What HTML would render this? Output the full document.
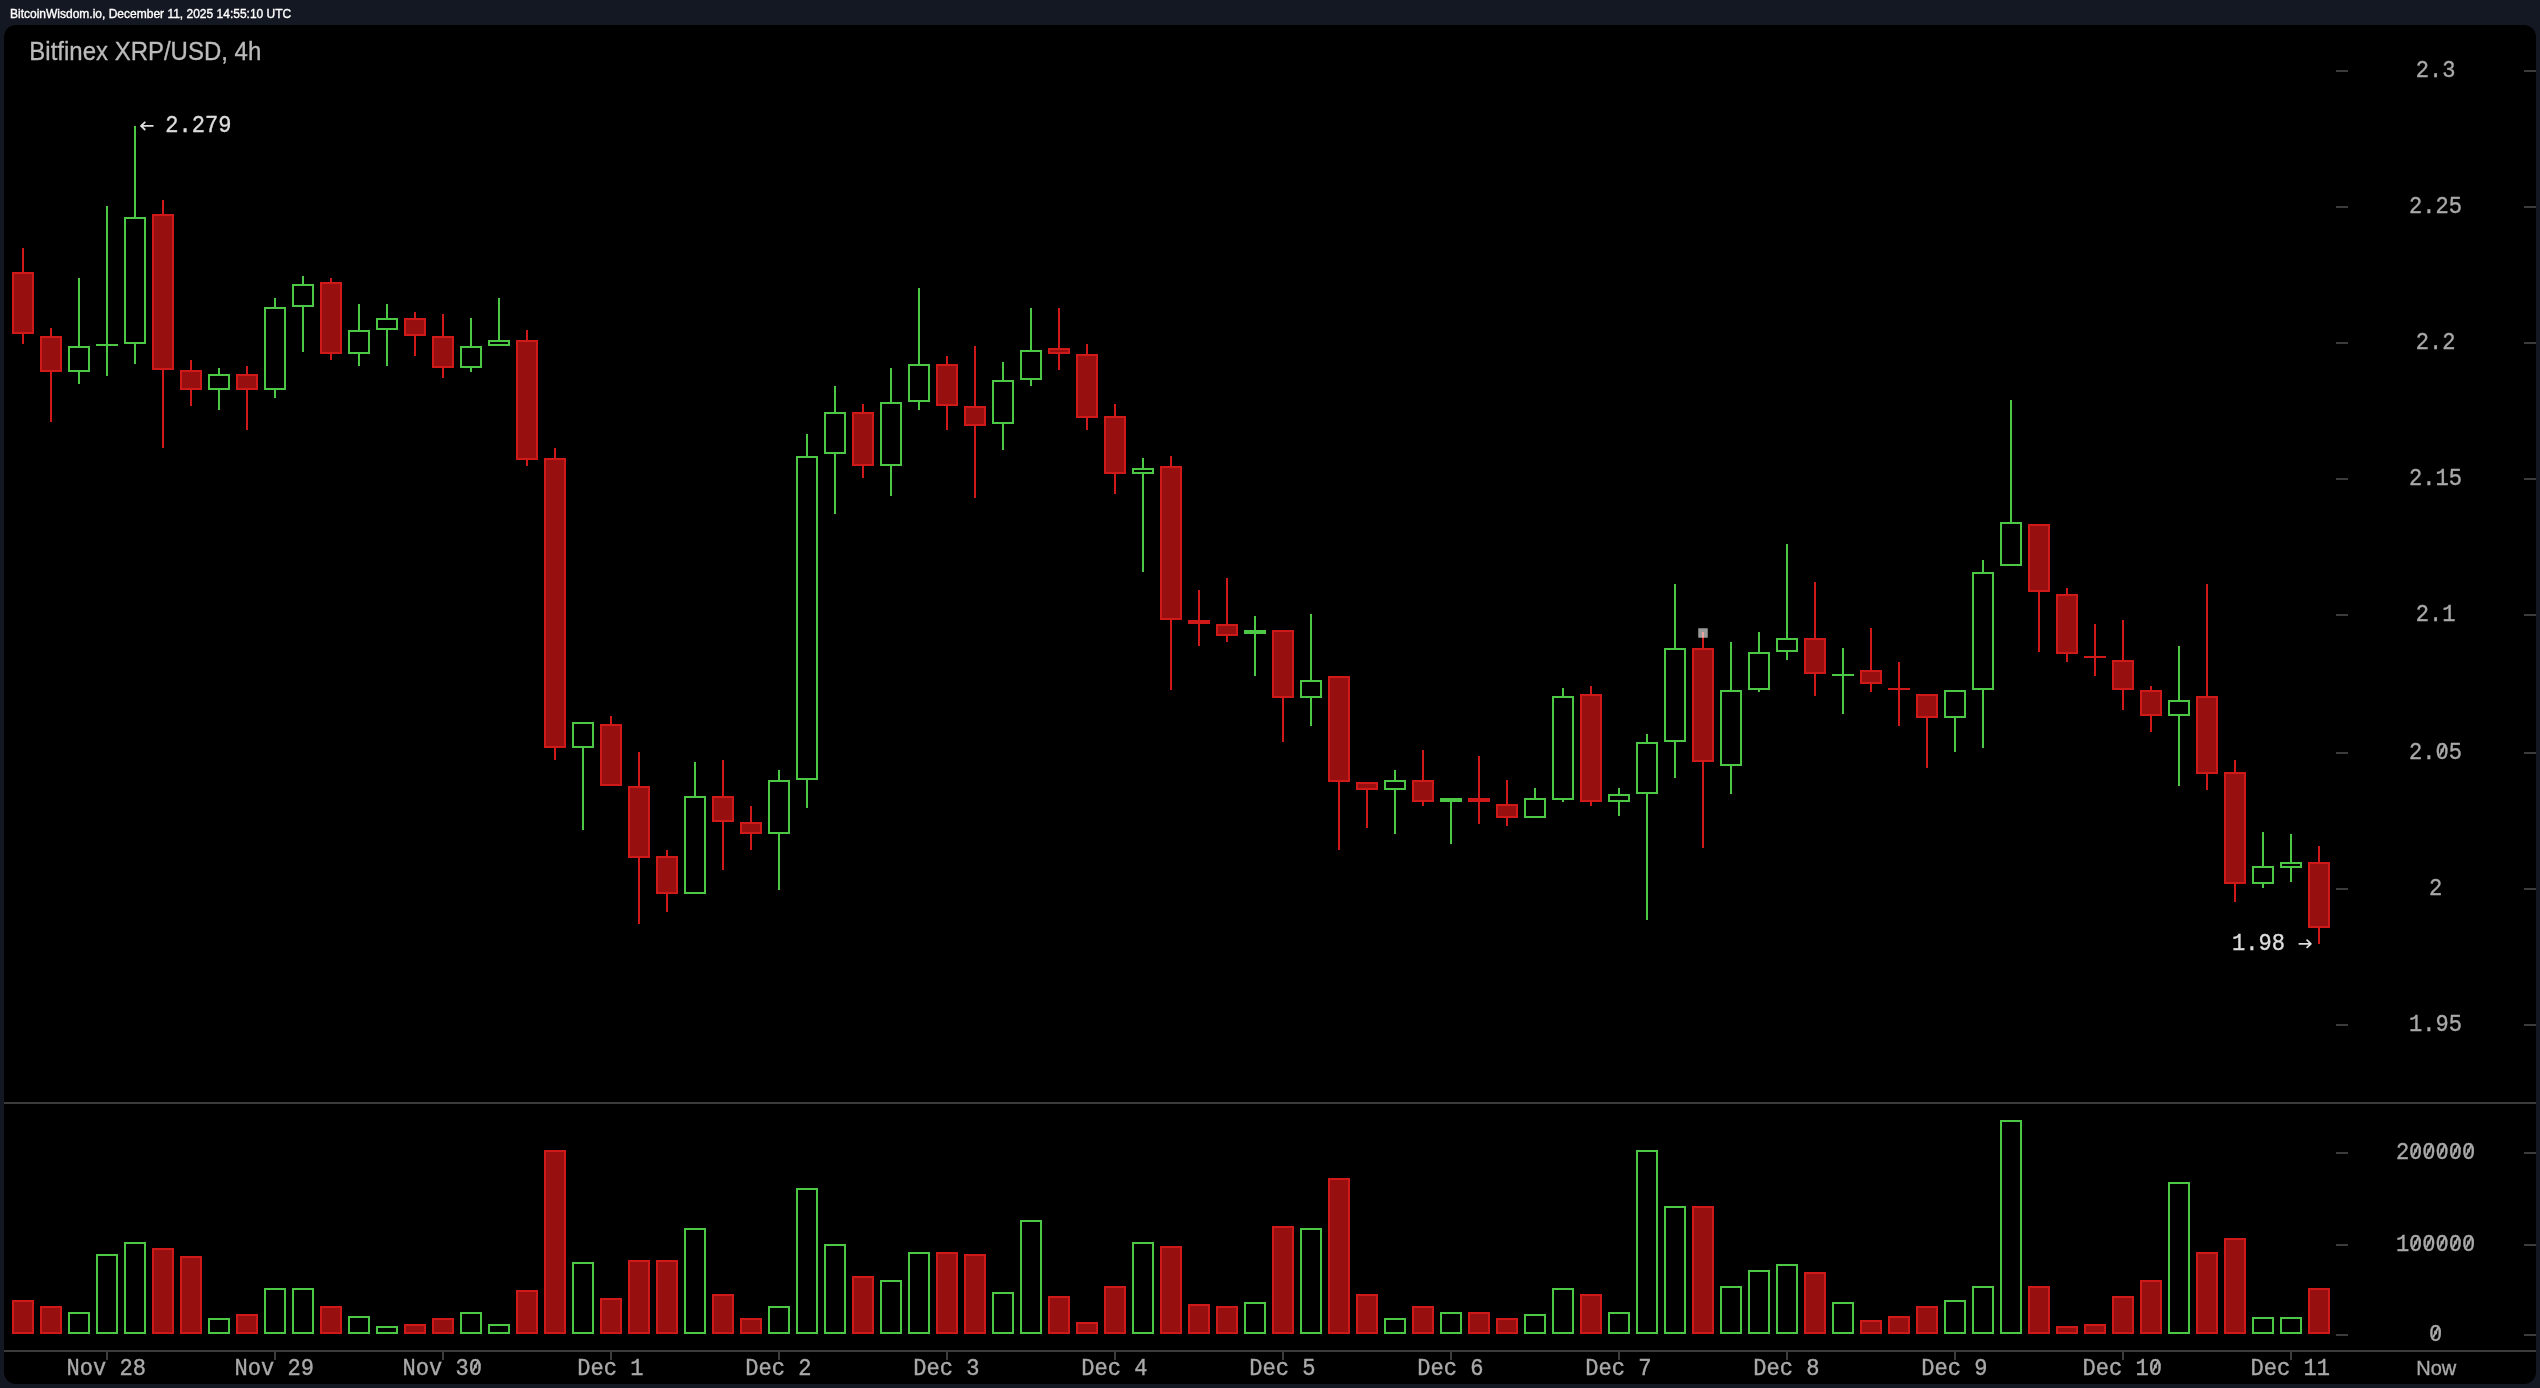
<!DOCTYPE html>
<html><head><meta charset="utf-8"><title>Bitfinex XRP/USD, 4h</title><style>
html,body{margin:0;padding:0;background:#141822;width:2540px;height:1388px;overflow:hidden}
svg{display:block}
text{filter:grayscale(0.01)}
.m{font-family:"Liberation Mono", monospace;font-size:24px}
.s{font-family:"Liberation Sans", sans-serif}
</style></head><body>
<svg width="2540" height="1388" viewBox="0 0 2540 1388">
<rect x="0" y="0" width="2540" height="1388" fill="#141822"/>
<text class="s" x="10" y="18" font-size="12" fill="#ffffff" stroke="#ffffff" stroke-width="0.35">BitcoinWisdom.io, December 11, 2025 14:55:10 UTC</text>
<rect x="4" y="25" width="2532" height="1359" rx="12" ry="12" fill="#000000"/>
<text class="s" transform="translate(29.3 59.8) scale(1 1.055)" x="0" y="0" font-size="24" fill="#bbbbbb" stroke="#bbbbbb" stroke-width="0.3">Bitfinex XRP/USD, 4h</text>
<g shape-rendering="crispEdges">
<rect x="2336" y="70" width="12" height="2" fill="#3c3c3c"/>
<rect x="2524" y="70" width="12" height="2" fill="#3c3c3c"/>
<rect x="2336" y="206" width="12" height="2" fill="#3c3c3c"/>
<rect x="2524" y="206" width="12" height="2" fill="#3c3c3c"/>
<rect x="2336" y="342" width="12" height="2" fill="#3c3c3c"/>
<rect x="2524" y="342" width="12" height="2" fill="#3c3c3c"/>
<rect x="2336" y="478" width="12" height="2" fill="#3c3c3c"/>
<rect x="2524" y="478" width="12" height="2" fill="#3c3c3c"/>
<rect x="2336" y="614" width="12" height="2" fill="#3c3c3c"/>
<rect x="2524" y="614" width="12" height="2" fill="#3c3c3c"/>
<rect x="2336" y="752" width="12" height="2" fill="#3c3c3c"/>
<rect x="2524" y="752" width="12" height="2" fill="#3c3c3c"/>
<rect x="2336" y="888" width="12" height="2" fill="#3c3c3c"/>
<rect x="2524" y="888" width="12" height="2" fill="#3c3c3c"/>
<rect x="2336" y="1024" width="12" height="2" fill="#3c3c3c"/>
<rect x="2524" y="1024" width="12" height="2" fill="#3c3c3c"/>
<rect x="2336" y="1152" width="12" height="2" fill="#3c3c3c"/>
<rect x="2524" y="1152" width="12" height="2" fill="#3c3c3c"/>
<rect x="2336" y="1244" width="12" height="2" fill="#3c3c3c"/>
<rect x="2524" y="1244" width="12" height="2" fill="#3c3c3c"/>
<rect x="2336" y="1334" width="12" height="2" fill="#3c3c3c"/>
<rect x="2524" y="1334" width="12" height="2" fill="#3c3c3c"/>
<rect x="4" y="1102" width="2532" height="2" fill="#3c3c3c"/>
<rect x="4" y="1350" width="2532" height="2" fill="#3c3c3c"/>
<rect x="106" y="1352" width="2" height="8" fill="#3c3c3c"/>
<rect x="274" y="1352" width="2" height="8" fill="#3c3c3c"/>
<rect x="442" y="1352" width="2" height="8" fill="#3c3c3c"/>
<rect x="610" y="1352" width="2" height="8" fill="#3c3c3c"/>
<rect x="778" y="1352" width="2" height="8" fill="#3c3c3c"/>
<rect x="946" y="1352" width="2" height="8" fill="#3c3c3c"/>
<rect x="1114" y="1352" width="2" height="8" fill="#3c3c3c"/>
<rect x="1282" y="1352" width="2" height="8" fill="#3c3c3c"/>
<rect x="1450" y="1352" width="2" height="8" fill="#3c3c3c"/>
<rect x="1618" y="1352" width="2" height="8" fill="#3c3c3c"/>
<rect x="1786" y="1352" width="2" height="8" fill="#3c3c3c"/>
<rect x="1954" y="1352" width="2" height="8" fill="#3c3c3c"/>
<rect x="2122" y="1352" width="2" height="8" fill="#3c3c3c"/>
<rect x="2290" y="1352" width="2" height="8" fill="#3c3c3c"/>
<rect x="12" y="1300" width="22" height="34" fill="#d01a1a"/>
<rect x="14" y="1302" width="18" height="30" fill="#980f0f"/>
<rect x="40" y="1306" width="22" height="28" fill="#d01a1a"/>
<rect x="42" y="1308" width="18" height="24" fill="#980f0f"/>
<rect x="68" y="1312" width="22" height="22" fill="#4cc846"/>
<rect x="70" y="1314" width="18" height="18" fill="#000"/>
<rect x="96" y="1254" width="22" height="80" fill="#4cc846"/>
<rect x="98" y="1256" width="18" height="76" fill="#000"/>
<rect x="124" y="1242" width="22" height="92" fill="#4cc846"/>
<rect x="126" y="1244" width="18" height="88" fill="#000"/>
<rect x="152" y="1248" width="22" height="86" fill="#d01a1a"/>
<rect x="154" y="1250" width="18" height="82" fill="#980f0f"/>
<rect x="180" y="1256" width="22" height="78" fill="#d01a1a"/>
<rect x="182" y="1258" width="18" height="74" fill="#980f0f"/>
<rect x="208" y="1318" width="22" height="16" fill="#4cc846"/>
<rect x="210" y="1320" width="18" height="12" fill="#000"/>
<rect x="236" y="1314" width="22" height="20" fill="#d01a1a"/>
<rect x="238" y="1316" width="18" height="16" fill="#980f0f"/>
<rect x="264" y="1288" width="22" height="46" fill="#4cc846"/>
<rect x="266" y="1290" width="18" height="42" fill="#000"/>
<rect x="292" y="1288" width="22" height="46" fill="#4cc846"/>
<rect x="294" y="1290" width="18" height="42" fill="#000"/>
<rect x="320" y="1306" width="22" height="28" fill="#d01a1a"/>
<rect x="322" y="1308" width="18" height="24" fill="#980f0f"/>
<rect x="348" y="1316" width="22" height="18" fill="#4cc846"/>
<rect x="350" y="1318" width="18" height="14" fill="#000"/>
<rect x="376" y="1326" width="22" height="8" fill="#4cc846"/>
<rect x="378" y="1328" width="18" height="4" fill="#000"/>
<rect x="404" y="1324" width="22" height="10" fill="#d01a1a"/>
<rect x="406" y="1326" width="18" height="6" fill="#980f0f"/>
<rect x="432" y="1318" width="22" height="16" fill="#d01a1a"/>
<rect x="434" y="1320" width="18" height="12" fill="#980f0f"/>
<rect x="460" y="1312" width="22" height="22" fill="#4cc846"/>
<rect x="462" y="1314" width="18" height="18" fill="#000"/>
<rect x="488" y="1324" width="22" height="10" fill="#4cc846"/>
<rect x="490" y="1326" width="18" height="6" fill="#000"/>
<rect x="516" y="1290" width="22" height="44" fill="#d01a1a"/>
<rect x="518" y="1292" width="18" height="40" fill="#980f0f"/>
<rect x="544" y="1150" width="22" height="184" fill="#d01a1a"/>
<rect x="546" y="1152" width="18" height="180" fill="#980f0f"/>
<rect x="572" y="1262" width="22" height="72" fill="#4cc846"/>
<rect x="574" y="1264" width="18" height="68" fill="#000"/>
<rect x="600" y="1298" width="22" height="36" fill="#d01a1a"/>
<rect x="602" y="1300" width="18" height="32" fill="#980f0f"/>
<rect x="628" y="1260" width="22" height="74" fill="#d01a1a"/>
<rect x="630" y="1262" width="18" height="70" fill="#980f0f"/>
<rect x="656" y="1260" width="22" height="74" fill="#d01a1a"/>
<rect x="658" y="1262" width="18" height="70" fill="#980f0f"/>
<rect x="684" y="1228" width="22" height="106" fill="#4cc846"/>
<rect x="686" y="1230" width="18" height="102" fill="#000"/>
<rect x="712" y="1294" width="22" height="40" fill="#d01a1a"/>
<rect x="714" y="1296" width="18" height="36" fill="#980f0f"/>
<rect x="740" y="1318" width="22" height="16" fill="#d01a1a"/>
<rect x="742" y="1320" width="18" height="12" fill="#980f0f"/>
<rect x="768" y="1306" width="22" height="28" fill="#4cc846"/>
<rect x="770" y="1308" width="18" height="24" fill="#000"/>
<rect x="796" y="1188" width="22" height="146" fill="#4cc846"/>
<rect x="798" y="1190" width="18" height="142" fill="#000"/>
<rect x="824" y="1244" width="22" height="90" fill="#4cc846"/>
<rect x="826" y="1246" width="18" height="86" fill="#000"/>
<rect x="852" y="1276" width="22" height="58" fill="#d01a1a"/>
<rect x="854" y="1278" width="18" height="54" fill="#980f0f"/>
<rect x="880" y="1280" width="22" height="54" fill="#4cc846"/>
<rect x="882" y="1282" width="18" height="50" fill="#000"/>
<rect x="908" y="1252" width="22" height="82" fill="#4cc846"/>
<rect x="910" y="1254" width="18" height="78" fill="#000"/>
<rect x="936" y="1252" width="22" height="82" fill="#d01a1a"/>
<rect x="938" y="1254" width="18" height="78" fill="#980f0f"/>
<rect x="964" y="1254" width="22" height="80" fill="#d01a1a"/>
<rect x="966" y="1256" width="18" height="76" fill="#980f0f"/>
<rect x="992" y="1292" width="22" height="42" fill="#4cc846"/>
<rect x="994" y="1294" width="18" height="38" fill="#000"/>
<rect x="1020" y="1220" width="22" height="114" fill="#4cc846"/>
<rect x="1022" y="1222" width="18" height="110" fill="#000"/>
<rect x="1048" y="1296" width="22" height="38" fill="#d01a1a"/>
<rect x="1050" y="1298" width="18" height="34" fill="#980f0f"/>
<rect x="1076" y="1322" width="22" height="12" fill="#d01a1a"/>
<rect x="1078" y="1324" width="18" height="8" fill="#980f0f"/>
<rect x="1104" y="1286" width="22" height="48" fill="#d01a1a"/>
<rect x="1106" y="1288" width="18" height="44" fill="#980f0f"/>
<rect x="1132" y="1242" width="22" height="92" fill="#4cc846"/>
<rect x="1134" y="1244" width="18" height="88" fill="#000"/>
<rect x="1160" y="1246" width="22" height="88" fill="#d01a1a"/>
<rect x="1162" y="1248" width="18" height="84" fill="#980f0f"/>
<rect x="1188" y="1304" width="22" height="30" fill="#d01a1a"/>
<rect x="1190" y="1306" width="18" height="26" fill="#980f0f"/>
<rect x="1216" y="1306" width="22" height="28" fill="#d01a1a"/>
<rect x="1218" y="1308" width="18" height="24" fill="#980f0f"/>
<rect x="1244" y="1302" width="22" height="32" fill="#4cc846"/>
<rect x="1246" y="1304" width="18" height="28" fill="#000"/>
<rect x="1272" y="1226" width="22" height="108" fill="#d01a1a"/>
<rect x="1274" y="1228" width="18" height="104" fill="#980f0f"/>
<rect x="1300" y="1228" width="22" height="106" fill="#4cc846"/>
<rect x="1302" y="1230" width="18" height="102" fill="#000"/>
<rect x="1328" y="1178" width="22" height="156" fill="#d01a1a"/>
<rect x="1330" y="1180" width="18" height="152" fill="#980f0f"/>
<rect x="1356" y="1294" width="22" height="40" fill="#d01a1a"/>
<rect x="1358" y="1296" width="18" height="36" fill="#980f0f"/>
<rect x="1384" y="1318" width="22" height="16" fill="#4cc846"/>
<rect x="1386" y="1320" width="18" height="12" fill="#000"/>
<rect x="1412" y="1306" width="22" height="28" fill="#d01a1a"/>
<rect x="1414" y="1308" width="18" height="24" fill="#980f0f"/>
<rect x="1440" y="1312" width="22" height="22" fill="#4cc846"/>
<rect x="1442" y="1314" width="18" height="18" fill="#000"/>
<rect x="1468" y="1312" width="22" height="22" fill="#d01a1a"/>
<rect x="1470" y="1314" width="18" height="18" fill="#980f0f"/>
<rect x="1496" y="1318" width="22" height="16" fill="#d01a1a"/>
<rect x="1498" y="1320" width="18" height="12" fill="#980f0f"/>
<rect x="1524" y="1314" width="22" height="20" fill="#4cc846"/>
<rect x="1526" y="1316" width="18" height="16" fill="#000"/>
<rect x="1552" y="1288" width="22" height="46" fill="#4cc846"/>
<rect x="1554" y="1290" width="18" height="42" fill="#000"/>
<rect x="1580" y="1294" width="22" height="40" fill="#d01a1a"/>
<rect x="1582" y="1296" width="18" height="36" fill="#980f0f"/>
<rect x="1608" y="1312" width="22" height="22" fill="#4cc846"/>
<rect x="1610" y="1314" width="18" height="18" fill="#000"/>
<rect x="1636" y="1150" width="22" height="184" fill="#4cc846"/>
<rect x="1638" y="1152" width="18" height="180" fill="#000"/>
<rect x="1664" y="1206" width="22" height="128" fill="#4cc846"/>
<rect x="1666" y="1208" width="18" height="124" fill="#000"/>
<rect x="1692" y="1206" width="22" height="128" fill="#d01a1a"/>
<rect x="1694" y="1208" width="18" height="124" fill="#980f0f"/>
<rect x="1720" y="1286" width="22" height="48" fill="#4cc846"/>
<rect x="1722" y="1288" width="18" height="44" fill="#000"/>
<rect x="1748" y="1270" width="22" height="64" fill="#4cc846"/>
<rect x="1750" y="1272" width="18" height="60" fill="#000"/>
<rect x="1776" y="1264" width="22" height="70" fill="#4cc846"/>
<rect x="1778" y="1266" width="18" height="66" fill="#000"/>
<rect x="1804" y="1272" width="22" height="62" fill="#d01a1a"/>
<rect x="1806" y="1274" width="18" height="58" fill="#980f0f"/>
<rect x="1832" y="1302" width="22" height="32" fill="#4cc846"/>
<rect x="1834" y="1304" width="18" height="28" fill="#000"/>
<rect x="1860" y="1320" width="22" height="14" fill="#d01a1a"/>
<rect x="1862" y="1322" width="18" height="10" fill="#980f0f"/>
<rect x="1888" y="1316" width="22" height="18" fill="#d01a1a"/>
<rect x="1890" y="1318" width="18" height="14" fill="#980f0f"/>
<rect x="1916" y="1306" width="22" height="28" fill="#d01a1a"/>
<rect x="1918" y="1308" width="18" height="24" fill="#980f0f"/>
<rect x="1944" y="1300" width="22" height="34" fill="#4cc846"/>
<rect x="1946" y="1302" width="18" height="30" fill="#000"/>
<rect x="1972" y="1286" width="22" height="48" fill="#4cc846"/>
<rect x="1974" y="1288" width="18" height="44" fill="#000"/>
<rect x="2000" y="1120" width="22" height="214" fill="#4cc846"/>
<rect x="2002" y="1122" width="18" height="210" fill="#000"/>
<rect x="2028" y="1286" width="22" height="48" fill="#d01a1a"/>
<rect x="2030" y="1288" width="18" height="44" fill="#980f0f"/>
<rect x="2056" y="1326" width="22" height="8" fill="#d01a1a"/>
<rect x="2058" y="1328" width="18" height="4" fill="#980f0f"/>
<rect x="2084" y="1324" width="22" height="10" fill="#d01a1a"/>
<rect x="2086" y="1326" width="18" height="6" fill="#980f0f"/>
<rect x="2112" y="1296" width="22" height="38" fill="#d01a1a"/>
<rect x="2114" y="1298" width="18" height="34" fill="#980f0f"/>
<rect x="2140" y="1280" width="22" height="54" fill="#d01a1a"/>
<rect x="2142" y="1282" width="18" height="50" fill="#980f0f"/>
<rect x="2168" y="1182" width="22" height="152" fill="#4cc846"/>
<rect x="2170" y="1184" width="18" height="148" fill="#000"/>
<rect x="2196" y="1252" width="22" height="82" fill="#d01a1a"/>
<rect x="2198" y="1254" width="18" height="78" fill="#980f0f"/>
<rect x="2224" y="1238" width="22" height="96" fill="#d01a1a"/>
<rect x="2226" y="1240" width="18" height="92" fill="#980f0f"/>
<rect x="2252" y="1317" width="22" height="17" fill="#4cc846"/>
<rect x="2254" y="1319" width="18" height="13" fill="#000"/>
<rect x="2280" y="1317" width="22" height="17" fill="#4cc846"/>
<rect x="2282" y="1319" width="18" height="13" fill="#000"/>
<rect x="2308" y="1288" width="22" height="46" fill="#d01a1a"/>
<rect x="2310" y="1290" width="18" height="42" fill="#980f0f"/>
<rect x="22" y="248" width="2" height="24" fill="#d01a1a"/>
<rect x="22" y="334" width="2" height="10" fill="#d01a1a"/>
<rect x="12" y="272" width="22" height="62" fill="#d01a1a"/>
<rect x="14" y="274" width="18" height="58" fill="#980f0f"/>
<rect x="50" y="328" width="2" height="8" fill="#d01a1a"/>
<rect x="50" y="372" width="2" height="50" fill="#d01a1a"/>
<rect x="40" y="336" width="22" height="36" fill="#d01a1a"/>
<rect x="42" y="338" width="18" height="32" fill="#980f0f"/>
<rect x="78" y="278" width="2" height="68" fill="#4cc846"/>
<rect x="78" y="372" width="2" height="12" fill="#4cc846"/>
<rect x="68" y="346" width="22" height="26" fill="#4cc846"/>
<rect x="70" y="348" width="18" height="22" fill="#000"/>
<rect x="106" y="206" width="2" height="138" fill="#4cc846"/>
<rect x="106" y="346" width="2" height="30" fill="#4cc846"/>
<rect x="96" y="344" width="22" height="2" fill="#4cc846"/>
<rect x="134" y="126" width="2" height="91" fill="#4cc846"/>
<rect x="134" y="344" width="2" height="20" fill="#4cc846"/>
<rect x="124" y="217" width="22" height="127" fill="#4cc846"/>
<rect x="126" y="219" width="18" height="123" fill="#000"/>
<rect x="162" y="200" width="2" height="14" fill="#d01a1a"/>
<rect x="162" y="370" width="2" height="78" fill="#d01a1a"/>
<rect x="152" y="214" width="22" height="156" fill="#d01a1a"/>
<rect x="154" y="216" width="18" height="152" fill="#980f0f"/>
<rect x="190" y="360" width="2" height="10" fill="#d01a1a"/>
<rect x="190" y="390" width="2" height="16" fill="#d01a1a"/>
<rect x="180" y="370" width="22" height="20" fill="#d01a1a"/>
<rect x="182" y="372" width="18" height="16" fill="#980f0f"/>
<rect x="218" y="368" width="2" height="6" fill="#4cc846"/>
<rect x="218" y="390" width="2" height="20" fill="#4cc846"/>
<rect x="208" y="374" width="22" height="16" fill="#4cc846"/>
<rect x="210" y="376" width="18" height="12" fill="#000"/>
<rect x="246" y="366" width="2" height="8" fill="#d01a1a"/>
<rect x="246" y="390" width="2" height="40" fill="#d01a1a"/>
<rect x="236" y="374" width="22" height="16" fill="#d01a1a"/>
<rect x="238" y="376" width="18" height="12" fill="#980f0f"/>
<rect x="274" y="298" width="2" height="9" fill="#4cc846"/>
<rect x="274" y="390" width="2" height="8" fill="#4cc846"/>
<rect x="264" y="307" width="22" height="83" fill="#4cc846"/>
<rect x="266" y="309" width="18" height="79" fill="#000"/>
<rect x="302" y="276" width="2" height="8" fill="#4cc846"/>
<rect x="302" y="307" width="2" height="45" fill="#4cc846"/>
<rect x="292" y="284" width="22" height="23" fill="#4cc846"/>
<rect x="294" y="286" width="18" height="19" fill="#000"/>
<rect x="330" y="278" width="2" height="4" fill="#d01a1a"/>
<rect x="330" y="354" width="2" height="6" fill="#d01a1a"/>
<rect x="320" y="282" width="22" height="72" fill="#d01a1a"/>
<rect x="322" y="284" width="18" height="68" fill="#980f0f"/>
<rect x="358" y="304" width="2" height="26" fill="#4cc846"/>
<rect x="358" y="354" width="2" height="12" fill="#4cc846"/>
<rect x="348" y="330" width="22" height="24" fill="#4cc846"/>
<rect x="350" y="332" width="18" height="20" fill="#000"/>
<rect x="386" y="304" width="2" height="14" fill="#4cc846"/>
<rect x="386" y="330" width="2" height="36" fill="#4cc846"/>
<rect x="376" y="318" width="22" height="12" fill="#4cc846"/>
<rect x="378" y="320" width="18" height="8" fill="#000"/>
<rect x="414" y="312" width="2" height="6" fill="#d01a1a"/>
<rect x="414" y="336" width="2" height="20" fill="#d01a1a"/>
<rect x="404" y="318" width="22" height="18" fill="#d01a1a"/>
<rect x="406" y="320" width="18" height="14" fill="#980f0f"/>
<rect x="442" y="314" width="2" height="22" fill="#d01a1a"/>
<rect x="442" y="368" width="2" height="10" fill="#d01a1a"/>
<rect x="432" y="336" width="22" height="32" fill="#d01a1a"/>
<rect x="434" y="338" width="18" height="28" fill="#980f0f"/>
<rect x="470" y="318" width="2" height="28" fill="#4cc846"/>
<rect x="470" y="368" width="2" height="4" fill="#4cc846"/>
<rect x="460" y="346" width="22" height="22" fill="#4cc846"/>
<rect x="462" y="348" width="18" height="18" fill="#000"/>
<rect x="498" y="298" width="2" height="42" fill="#4cc846"/>
<rect x="488" y="340" width="22" height="6" fill="#4cc846"/>
<rect x="490" y="342" width="18" height="2" fill="#000"/>
<rect x="526" y="330" width="2" height="10" fill="#d01a1a"/>
<rect x="526" y="460" width="2" height="6" fill="#d01a1a"/>
<rect x="516" y="340" width="22" height="120" fill="#d01a1a"/>
<rect x="518" y="342" width="18" height="116" fill="#980f0f"/>
<rect x="554" y="448" width="2" height="10" fill="#d01a1a"/>
<rect x="554" y="748" width="2" height="12" fill="#d01a1a"/>
<rect x="544" y="458" width="22" height="290" fill="#d01a1a"/>
<rect x="546" y="460" width="18" height="286" fill="#980f0f"/>
<rect x="582" y="748" width="2" height="82" fill="#4cc846"/>
<rect x="572" y="722" width="22" height="26" fill="#4cc846"/>
<rect x="574" y="724" width="18" height="22" fill="#000"/>
<rect x="610" y="716" width="2" height="8" fill="#d01a1a"/>
<rect x="600" y="724" width="22" height="62" fill="#d01a1a"/>
<rect x="602" y="726" width="18" height="58" fill="#980f0f"/>
<rect x="638" y="752" width="2" height="34" fill="#d01a1a"/>
<rect x="638" y="858" width="2" height="66" fill="#d01a1a"/>
<rect x="628" y="786" width="22" height="72" fill="#d01a1a"/>
<rect x="630" y="788" width="18" height="68" fill="#980f0f"/>
<rect x="666" y="850" width="2" height="6" fill="#d01a1a"/>
<rect x="666" y="894" width="2" height="18" fill="#d01a1a"/>
<rect x="656" y="856" width="22" height="38" fill="#d01a1a"/>
<rect x="658" y="858" width="18" height="34" fill="#980f0f"/>
<rect x="694" y="762" width="2" height="34" fill="#4cc846"/>
<rect x="684" y="796" width="22" height="98" fill="#4cc846"/>
<rect x="686" y="798" width="18" height="94" fill="#000"/>
<rect x="722" y="760" width="2" height="36" fill="#d01a1a"/>
<rect x="722" y="822" width="2" height="48" fill="#d01a1a"/>
<rect x="712" y="796" width="22" height="26" fill="#d01a1a"/>
<rect x="714" y="798" width="18" height="22" fill="#980f0f"/>
<rect x="750" y="806" width="2" height="16" fill="#d01a1a"/>
<rect x="750" y="834" width="2" height="16" fill="#d01a1a"/>
<rect x="740" y="822" width="22" height="12" fill="#d01a1a"/>
<rect x="742" y="824" width="18" height="8" fill="#980f0f"/>
<rect x="778" y="770" width="2" height="10" fill="#4cc846"/>
<rect x="778" y="834" width="2" height="56" fill="#4cc846"/>
<rect x="768" y="780" width="22" height="54" fill="#4cc846"/>
<rect x="770" y="782" width="18" height="50" fill="#000"/>
<rect x="806" y="434" width="2" height="22" fill="#4cc846"/>
<rect x="806" y="780" width="2" height="28" fill="#4cc846"/>
<rect x="796" y="456" width="22" height="324" fill="#4cc846"/>
<rect x="798" y="458" width="18" height="320" fill="#000"/>
<rect x="834" y="386" width="2" height="26" fill="#4cc846"/>
<rect x="834" y="454" width="2" height="60" fill="#4cc846"/>
<rect x="824" y="412" width="22" height="42" fill="#4cc846"/>
<rect x="826" y="414" width="18" height="38" fill="#000"/>
<rect x="862" y="404" width="2" height="8" fill="#d01a1a"/>
<rect x="862" y="466" width="2" height="12" fill="#d01a1a"/>
<rect x="852" y="412" width="22" height="54" fill="#d01a1a"/>
<rect x="854" y="414" width="18" height="50" fill="#980f0f"/>
<rect x="890" y="368" width="2" height="34" fill="#4cc846"/>
<rect x="890" y="466" width="2" height="30" fill="#4cc846"/>
<rect x="880" y="402" width="22" height="64" fill="#4cc846"/>
<rect x="882" y="404" width="18" height="60" fill="#000"/>
<rect x="918" y="288" width="2" height="76" fill="#4cc846"/>
<rect x="918" y="402" width="2" height="8" fill="#4cc846"/>
<rect x="908" y="364" width="22" height="38" fill="#4cc846"/>
<rect x="910" y="366" width="18" height="34" fill="#000"/>
<rect x="946" y="356" width="2" height="8" fill="#d01a1a"/>
<rect x="946" y="406" width="2" height="24" fill="#d01a1a"/>
<rect x="936" y="364" width="22" height="42" fill="#d01a1a"/>
<rect x="938" y="366" width="18" height="38" fill="#980f0f"/>
<rect x="974" y="346" width="2" height="60" fill="#d01a1a"/>
<rect x="974" y="426" width="2" height="72" fill="#d01a1a"/>
<rect x="964" y="406" width="22" height="20" fill="#d01a1a"/>
<rect x="966" y="408" width="18" height="16" fill="#980f0f"/>
<rect x="1002" y="362" width="2" height="18" fill="#4cc846"/>
<rect x="1002" y="424" width="2" height="26" fill="#4cc846"/>
<rect x="992" y="380" width="22" height="44" fill="#4cc846"/>
<rect x="994" y="382" width="18" height="40" fill="#000"/>
<rect x="1030" y="308" width="2" height="42" fill="#4cc846"/>
<rect x="1030" y="380" width="2" height="6" fill="#4cc846"/>
<rect x="1020" y="350" width="22" height="30" fill="#4cc846"/>
<rect x="1022" y="352" width="18" height="26" fill="#000"/>
<rect x="1058" y="308" width="2" height="40" fill="#d01a1a"/>
<rect x="1058" y="354" width="2" height="16" fill="#d01a1a"/>
<rect x="1048" y="348" width="22" height="6" fill="#d01a1a"/>
<rect x="1050" y="350" width="18" height="2" fill="#980f0f"/>
<rect x="1086" y="344" width="2" height="10" fill="#d01a1a"/>
<rect x="1086" y="418" width="2" height="12" fill="#d01a1a"/>
<rect x="1076" y="354" width="22" height="64" fill="#d01a1a"/>
<rect x="1078" y="356" width="18" height="60" fill="#980f0f"/>
<rect x="1114" y="404" width="2" height="12" fill="#d01a1a"/>
<rect x="1114" y="474" width="2" height="20" fill="#d01a1a"/>
<rect x="1104" y="416" width="22" height="58" fill="#d01a1a"/>
<rect x="1106" y="418" width="18" height="54" fill="#980f0f"/>
<rect x="1142" y="458" width="2" height="10" fill="#4cc846"/>
<rect x="1142" y="474" width="2" height="98" fill="#4cc846"/>
<rect x="1132" y="468" width="22" height="6" fill="#4cc846"/>
<rect x="1134" y="470" width="18" height="2" fill="#000"/>
<rect x="1170" y="456" width="2" height="10" fill="#d01a1a"/>
<rect x="1170" y="620" width="2" height="70" fill="#d01a1a"/>
<rect x="1160" y="466" width="22" height="154" fill="#d01a1a"/>
<rect x="1162" y="468" width="18" height="150" fill="#980f0f"/>
<rect x="1198" y="590" width="2" height="30" fill="#d01a1a"/>
<rect x="1198" y="624" width="2" height="22" fill="#d01a1a"/>
<rect x="1188" y="620" width="22" height="4" fill="#d01a1a"/>
<rect x="1226" y="578" width="2" height="46" fill="#d01a1a"/>
<rect x="1226" y="636" width="2" height="6" fill="#d01a1a"/>
<rect x="1216" y="624" width="22" height="12" fill="#d01a1a"/>
<rect x="1218" y="626" width="18" height="8" fill="#980f0f"/>
<rect x="1254" y="616" width="2" height="14" fill="#4cc846"/>
<rect x="1254" y="634" width="2" height="42" fill="#4cc846"/>
<rect x="1244" y="630" width="22" height="4" fill="#4cc846"/>
<rect x="1282" y="698" width="2" height="44" fill="#d01a1a"/>
<rect x="1272" y="630" width="22" height="68" fill="#d01a1a"/>
<rect x="1274" y="632" width="18" height="64" fill="#980f0f"/>
<rect x="1310" y="614" width="2" height="66" fill="#4cc846"/>
<rect x="1310" y="698" width="2" height="28" fill="#4cc846"/>
<rect x="1300" y="680" width="22" height="18" fill="#4cc846"/>
<rect x="1302" y="682" width="18" height="14" fill="#000"/>
<rect x="1338" y="782" width="2" height="68" fill="#d01a1a"/>
<rect x="1328" y="676" width="22" height="106" fill="#d01a1a"/>
<rect x="1330" y="678" width="18" height="102" fill="#980f0f"/>
<rect x="1366" y="790" width="2" height="38" fill="#d01a1a"/>
<rect x="1356" y="782" width="22" height="8" fill="#d01a1a"/>
<rect x="1358" y="784" width="18" height="4" fill="#980f0f"/>
<rect x="1394" y="770" width="2" height="10" fill="#4cc846"/>
<rect x="1394" y="790" width="2" height="44" fill="#4cc846"/>
<rect x="1384" y="780" width="22" height="10" fill="#4cc846"/>
<rect x="1386" y="782" width="18" height="6" fill="#000"/>
<rect x="1422" y="750" width="2" height="30" fill="#d01a1a"/>
<rect x="1422" y="802" width="2" height="4" fill="#d01a1a"/>
<rect x="1412" y="780" width="22" height="22" fill="#d01a1a"/>
<rect x="1414" y="782" width="18" height="18" fill="#980f0f"/>
<rect x="1450" y="802" width="2" height="42" fill="#4cc846"/>
<rect x="1440" y="798" width="22" height="4" fill="#4cc846"/>
<rect x="1478" y="756" width="2" height="42" fill="#d01a1a"/>
<rect x="1478" y="802" width="2" height="22" fill="#d01a1a"/>
<rect x="1468" y="798" width="22" height="4" fill="#d01a1a"/>
<rect x="1506" y="780" width="2" height="24" fill="#d01a1a"/>
<rect x="1506" y="818" width="2" height="8" fill="#d01a1a"/>
<rect x="1496" y="804" width="22" height="14" fill="#d01a1a"/>
<rect x="1498" y="806" width="18" height="10" fill="#980f0f"/>
<rect x="1534" y="788" width="2" height="10" fill="#4cc846"/>
<rect x="1524" y="798" width="22" height="20" fill="#4cc846"/>
<rect x="1526" y="800" width="18" height="16" fill="#000"/>
<rect x="1562" y="688" width="2" height="8" fill="#4cc846"/>
<rect x="1562" y="800" width="2" height="2" fill="#4cc846"/>
<rect x="1552" y="696" width="22" height="104" fill="#4cc846"/>
<rect x="1554" y="698" width="18" height="100" fill="#000"/>
<rect x="1590" y="686" width="2" height="8" fill="#d01a1a"/>
<rect x="1590" y="802" width="2" height="4" fill="#d01a1a"/>
<rect x="1580" y="694" width="22" height="108" fill="#d01a1a"/>
<rect x="1582" y="696" width="18" height="104" fill="#980f0f"/>
<rect x="1618" y="788" width="2" height="6" fill="#4cc846"/>
<rect x="1618" y="802" width="2" height="14" fill="#4cc846"/>
<rect x="1608" y="794" width="22" height="8" fill="#4cc846"/>
<rect x="1610" y="796" width="18" height="4" fill="#000"/>
<rect x="1646" y="734" width="2" height="8" fill="#4cc846"/>
<rect x="1646" y="794" width="2" height="126" fill="#4cc846"/>
<rect x="1636" y="742" width="22" height="52" fill="#4cc846"/>
<rect x="1638" y="744" width="18" height="48" fill="#000"/>
<rect x="1674" y="584" width="2" height="64" fill="#4cc846"/>
<rect x="1674" y="742" width="2" height="36" fill="#4cc846"/>
<rect x="1664" y="648" width="22" height="94" fill="#4cc846"/>
<rect x="1666" y="650" width="18" height="90" fill="#000"/>
<rect x="1702" y="632" width="2" height="16" fill="#d01a1a"/>
<rect x="1702" y="762" width="2" height="86" fill="#d01a1a"/>
<rect x="1692" y="648" width="22" height="114" fill="#d01a1a"/>
<rect x="1694" y="650" width="18" height="110" fill="#980f0f"/>
<rect x="1730" y="642" width="2" height="48" fill="#4cc846"/>
<rect x="1730" y="766" width="2" height="28" fill="#4cc846"/>
<rect x="1720" y="690" width="22" height="76" fill="#4cc846"/>
<rect x="1722" y="692" width="18" height="72" fill="#000"/>
<rect x="1758" y="632" width="2" height="20" fill="#4cc846"/>
<rect x="1758" y="690" width="2" height="2" fill="#4cc846"/>
<rect x="1748" y="652" width="22" height="38" fill="#4cc846"/>
<rect x="1750" y="654" width="18" height="34" fill="#000"/>
<rect x="1786" y="544" width="2" height="94" fill="#4cc846"/>
<rect x="1786" y="652" width="2" height="8" fill="#4cc846"/>
<rect x="1776" y="638" width="22" height="14" fill="#4cc846"/>
<rect x="1778" y="640" width="18" height="10" fill="#000"/>
<rect x="1814" y="582" width="2" height="56" fill="#d01a1a"/>
<rect x="1814" y="674" width="2" height="22" fill="#d01a1a"/>
<rect x="1804" y="638" width="22" height="36" fill="#d01a1a"/>
<rect x="1806" y="640" width="18" height="32" fill="#980f0f"/>
<rect x="1842" y="648" width="2" height="26" fill="#4cc846"/>
<rect x="1842" y="676" width="2" height="38" fill="#4cc846"/>
<rect x="1832" y="674" width="22" height="2" fill="#4cc846"/>
<rect x="1870" y="628" width="2" height="42" fill="#d01a1a"/>
<rect x="1870" y="684" width="2" height="8" fill="#d01a1a"/>
<rect x="1860" y="670" width="22" height="14" fill="#d01a1a"/>
<rect x="1862" y="672" width="18" height="10" fill="#980f0f"/>
<rect x="1898" y="662" width="2" height="26" fill="#d01a1a"/>
<rect x="1898" y="690" width="2" height="36" fill="#d01a1a"/>
<rect x="1888" y="688" width="22" height="2" fill="#d01a1a"/>
<rect x="1926" y="718" width="2" height="50" fill="#d01a1a"/>
<rect x="1916" y="694" width="22" height="24" fill="#d01a1a"/>
<rect x="1918" y="696" width="18" height="20" fill="#980f0f"/>
<rect x="1954" y="718" width="2" height="34" fill="#4cc846"/>
<rect x="1944" y="690" width="22" height="28" fill="#4cc846"/>
<rect x="1946" y="692" width="18" height="24" fill="#000"/>
<rect x="1982" y="560" width="2" height="12" fill="#4cc846"/>
<rect x="1982" y="690" width="2" height="58" fill="#4cc846"/>
<rect x="1972" y="572" width="22" height="118" fill="#4cc846"/>
<rect x="1974" y="574" width="18" height="114" fill="#000"/>
<rect x="2010" y="400" width="2" height="122" fill="#4cc846"/>
<rect x="2000" y="522" width="22" height="44" fill="#4cc846"/>
<rect x="2002" y="524" width="18" height="40" fill="#000"/>
<rect x="2038" y="592" width="2" height="60" fill="#d01a1a"/>
<rect x="2028" y="524" width="22" height="68" fill="#d01a1a"/>
<rect x="2030" y="526" width="18" height="64" fill="#980f0f"/>
<rect x="2066" y="588" width="2" height="6" fill="#d01a1a"/>
<rect x="2066" y="654" width="2" height="8" fill="#d01a1a"/>
<rect x="2056" y="594" width="22" height="60" fill="#d01a1a"/>
<rect x="2058" y="596" width="18" height="56" fill="#980f0f"/>
<rect x="2094" y="624" width="2" height="32" fill="#d01a1a"/>
<rect x="2094" y="658" width="2" height="18" fill="#d01a1a"/>
<rect x="2084" y="656" width="22" height="2" fill="#d01a1a"/>
<rect x="2122" y="620" width="2" height="40" fill="#d01a1a"/>
<rect x="2122" y="690" width="2" height="20" fill="#d01a1a"/>
<rect x="2112" y="660" width="22" height="30" fill="#d01a1a"/>
<rect x="2114" y="662" width="18" height="26" fill="#980f0f"/>
<rect x="2150" y="686" width="2" height="4" fill="#d01a1a"/>
<rect x="2150" y="716" width="2" height="16" fill="#d01a1a"/>
<rect x="2140" y="690" width="22" height="26" fill="#d01a1a"/>
<rect x="2142" y="692" width="18" height="22" fill="#980f0f"/>
<rect x="2178" y="646" width="2" height="54" fill="#4cc846"/>
<rect x="2178" y="716" width="2" height="70" fill="#4cc846"/>
<rect x="2168" y="700" width="22" height="16" fill="#4cc846"/>
<rect x="2170" y="702" width="18" height="12" fill="#000"/>
<rect x="2206" y="584" width="2" height="112" fill="#d01a1a"/>
<rect x="2206" y="774" width="2" height="16" fill="#d01a1a"/>
<rect x="2196" y="696" width="22" height="78" fill="#d01a1a"/>
<rect x="2198" y="698" width="18" height="74" fill="#980f0f"/>
<rect x="2234" y="760" width="2" height="12" fill="#d01a1a"/>
<rect x="2234" y="884" width="2" height="18" fill="#d01a1a"/>
<rect x="2224" y="772" width="22" height="112" fill="#d01a1a"/>
<rect x="2226" y="774" width="18" height="108" fill="#980f0f"/>
<rect x="2262" y="832" width="2" height="34" fill="#4cc846"/>
<rect x="2262" y="884" width="2" height="4" fill="#4cc846"/>
<rect x="2252" y="866" width="22" height="18" fill="#4cc846"/>
<rect x="2254" y="868" width="18" height="14" fill="#000"/>
<rect x="2290" y="834" width="2" height="28" fill="#4cc846"/>
<rect x="2290" y="868" width="2" height="14" fill="#4cc846"/>
<rect x="2280" y="862" width="22" height="6" fill="#4cc846"/>
<rect x="2282" y="864" width="18" height="2" fill="#000"/>
<rect x="2318" y="846" width="2" height="16" fill="#d01a1a"/>
<rect x="2318" y="928" width="2" height="16" fill="#d01a1a"/>
<rect x="2308" y="862" width="22" height="66" fill="#d01a1a"/>
<rect x="2310" y="864" width="18" height="62" fill="#980f0f"/>
</g>
<rect x="1698.5" y="628.5" width="9" height="9" fill="rgba(255,255,255,0.6)" stroke="rgba(255,255,255,0.22)" stroke-width="1"/>
<text class="m" x="2415.74" y="76.70" fill="#a9a9a9" stroke="#a9a9a9" stroke-width="0.38" textLength="39.72" lengthAdjust="spacingAndGlyphs">2.3</text>
<text class="m" x="2409.12" y="212.70" fill="#a9a9a9" stroke="#a9a9a9" stroke-width="0.38" textLength="52.96" lengthAdjust="spacingAndGlyphs">2.25</text>
<text class="m" x="2415.74" y="348.70" fill="#a9a9a9" stroke="#a9a9a9" stroke-width="0.38" textLength="39.72" lengthAdjust="spacingAndGlyphs">2.2</text>
<text class="m" x="2409.12" y="484.70" fill="#a9a9a9" stroke="#a9a9a9" stroke-width="0.38" textLength="52.96" lengthAdjust="spacingAndGlyphs">2.15</text>
<text class="m" x="2415.74" y="620.70" fill="#a9a9a9" stroke="#a9a9a9" stroke-width="0.38" textLength="39.72" lengthAdjust="spacingAndGlyphs">2.1</text>
<text class="m" x="2409.12" y="758.70" fill="#a9a9a9" stroke="#a9a9a9" stroke-width="0.38" textLength="52.96" lengthAdjust="spacingAndGlyphs">2.05</text>
<text class="m" x="2428.98" y="894.70" fill="#a9a9a9" stroke="#a9a9a9" stroke-width="0.38" textLength="13.24" lengthAdjust="spacingAndGlyphs">2</text>
<text class="m" x="2409.12" y="1030.70" fill="#a9a9a9" stroke="#a9a9a9" stroke-width="0.38" textLength="52.96" lengthAdjust="spacingAndGlyphs">1.95</text>
<text class="m" x="2395.88" y="1158.70" fill="#a9a9a9" stroke="#a9a9a9" stroke-width="0.38" textLength="79.44" lengthAdjust="spacingAndGlyphs">200000</text>
<text class="m" x="2395.88" y="1250.70" fill="#a9a9a9" stroke="#a9a9a9" stroke-width="0.38" textLength="79.44" lengthAdjust="spacingAndGlyphs">100000</text>
<text class="m" x="2428.98" y="1340.70" fill="#a9a9a9" stroke="#a9a9a9" stroke-width="0.38" textLength="13.24" lengthAdjust="spacingAndGlyphs">0</text>
<text class="m" x="66.58" y="1374.60" fill="#a9a9a9" stroke="#a9a9a9" stroke-width="0.38" textLength="79.44" lengthAdjust="spacingAndGlyphs">Nov 28</text>
<text class="m" x="234.58" y="1374.60" fill="#a9a9a9" stroke="#a9a9a9" stroke-width="0.38" textLength="79.44" lengthAdjust="spacingAndGlyphs">Nov 29</text>
<text class="m" x="402.58" y="1374.60" fill="#a9a9a9" stroke="#a9a9a9" stroke-width="0.38" textLength="79.44" lengthAdjust="spacingAndGlyphs">Nov 30</text>
<text class="m" x="577.20" y="1374.60" fill="#a9a9a9" stroke="#a9a9a9" stroke-width="0.38" textLength="66.20" lengthAdjust="spacingAndGlyphs">Dec 1</text>
<text class="m" x="745.20" y="1374.60" fill="#a9a9a9" stroke="#a9a9a9" stroke-width="0.38" textLength="66.20" lengthAdjust="spacingAndGlyphs">Dec 2</text>
<text class="m" x="913.20" y="1374.60" fill="#a9a9a9" stroke="#a9a9a9" stroke-width="0.38" textLength="66.20" lengthAdjust="spacingAndGlyphs">Dec 3</text>
<text class="m" x="1081.20" y="1374.60" fill="#a9a9a9" stroke="#a9a9a9" stroke-width="0.38" textLength="66.20" lengthAdjust="spacingAndGlyphs">Dec 4</text>
<text class="m" x="1249.20" y="1374.60" fill="#a9a9a9" stroke="#a9a9a9" stroke-width="0.38" textLength="66.20" lengthAdjust="spacingAndGlyphs">Dec 5</text>
<text class="m" x="1417.20" y="1374.60" fill="#a9a9a9" stroke="#a9a9a9" stroke-width="0.38" textLength="66.20" lengthAdjust="spacingAndGlyphs">Dec 6</text>
<text class="m" x="1585.20" y="1374.60" fill="#a9a9a9" stroke="#a9a9a9" stroke-width="0.38" textLength="66.20" lengthAdjust="spacingAndGlyphs">Dec 7</text>
<text class="m" x="1753.20" y="1374.60" fill="#a9a9a9" stroke="#a9a9a9" stroke-width="0.38" textLength="66.20" lengthAdjust="spacingAndGlyphs">Dec 8</text>
<text class="m" x="1921.20" y="1374.60" fill="#a9a9a9" stroke="#a9a9a9" stroke-width="0.38" textLength="66.20" lengthAdjust="spacingAndGlyphs">Dec 9</text>
<text class="m" x="2082.58" y="1374.60" fill="#a9a9a9" stroke="#a9a9a9" stroke-width="0.38" textLength="79.44" lengthAdjust="spacingAndGlyphs">Dec 10</text>
<text class="m" x="2250.58" y="1374.60" fill="#a9a9a9" stroke="#a9a9a9" stroke-width="0.38" textLength="79.44" lengthAdjust="spacingAndGlyphs">Dec 11</text>
<text class="s" x="2436.3" y="1374.6" font-size="20" text-anchor="middle" fill="#a9a9a9" stroke="#a9a9a9" stroke-width="0.35">Now</text>
<text class="m" x="165.25" y="131.70" fill="#dddddd" stroke="#dddddd" stroke-width="0.38" textLength="66.20" lengthAdjust="spacingAndGlyphs">2.279</text>
<path d="M141 125.9 H152.8 M144.8 122.3 L141 125.9 L144.8 129.5" stroke="#dddddd" stroke-width="1.8" fill="none" stroke-linecap="round" stroke-linejoin="round"/>
<text class="m" x="2232.10" y="949.70" fill="#dddddd" stroke="#dddddd" stroke-width="0.38" textLength="52.96" lengthAdjust="spacingAndGlyphs">1.98</text>
<path d="M2299.3 943.8 H2310.9 M2307.1 940.2 L2310.9 943.8 L2307.1 947.4" stroke="#dddddd" stroke-width="1.8" fill="none" stroke-linecap="round" stroke-linejoin="round"/>
<path d="M2439.72 755.50 L2444.72 745.50" stroke="#a9a9a9" stroke-width="1.9" stroke-linecap="butt"/>
<path d="M2413.24 1155.50 L2418.24 1145.50" stroke="#a9a9a9" stroke-width="1.9" stroke-linecap="butt"/>
<path d="M2426.48 1155.50 L2431.48 1145.50" stroke="#a9a9a9" stroke-width="1.9" stroke-linecap="butt"/>
<path d="M2439.72 1155.50 L2444.72 1145.50" stroke="#a9a9a9" stroke-width="1.9" stroke-linecap="butt"/>
<path d="M2452.96 1155.50 L2457.96 1145.50" stroke="#a9a9a9" stroke-width="1.9" stroke-linecap="butt"/>
<path d="M2466.20 1155.50 L2471.20 1145.50" stroke="#a9a9a9" stroke-width="1.9" stroke-linecap="butt"/>
<path d="M2413.24 1247.50 L2418.24 1237.50" stroke="#a9a9a9" stroke-width="1.9" stroke-linecap="butt"/>
<path d="M2426.48 1247.50 L2431.48 1237.50" stroke="#a9a9a9" stroke-width="1.9" stroke-linecap="butt"/>
<path d="M2439.72 1247.50 L2444.72 1237.50" stroke="#a9a9a9" stroke-width="1.9" stroke-linecap="butt"/>
<path d="M2452.96 1247.50 L2457.96 1237.50" stroke="#a9a9a9" stroke-width="1.9" stroke-linecap="butt"/>
<path d="M2466.20 1247.50 L2471.20 1237.50" stroke="#a9a9a9" stroke-width="1.9" stroke-linecap="butt"/>
<path d="M2433.10 1337.50 L2438.10 1327.50" stroke="#a9a9a9" stroke-width="1.9" stroke-linecap="butt"/>
<path d="M472.90 1371.40 L477.90 1361.40" stroke="#a9a9a9" stroke-width="1.9" stroke-linecap="butt"/>
<path d="M2152.90 1371.40 L2157.90 1361.40" stroke="#a9a9a9" stroke-width="1.9" stroke-linecap="butt"/>
</svg>
</body></html>
